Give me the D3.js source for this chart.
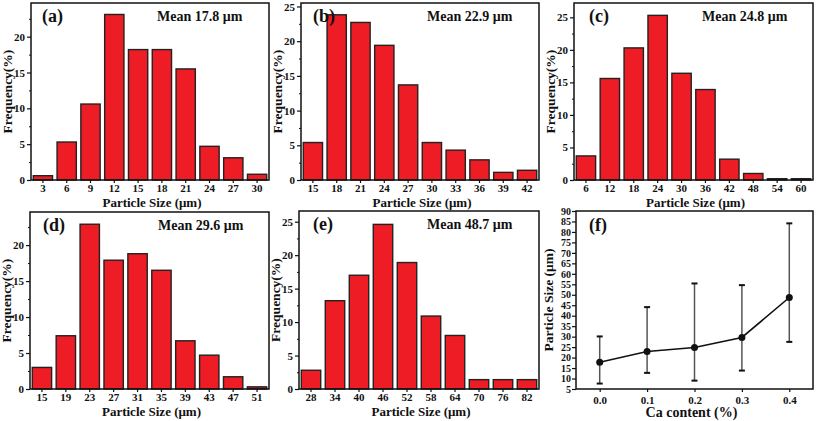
<!DOCTYPE html>
<html><head><meta charset="utf-8">
<script src="https://cdn.jsdelivr.net/npm/d3@7"></script>
<style>
html,body{margin:0;padding:0;background:#fff;}
svg text{font-family:"Liberation Serif","Times New Roman",serif;font-weight:bold;fill:#111;}
</style></head>
<body>
<svg id="chart" width="817" height="421"></svg>
<script>
// ---- data ----
const panelLabels = ["(a)", "(b)", "(c)", "(d)", "(e)", "(f)"];
const meanLabels = ["Mean 17.8 μm", "Mean 22.9 μm", "Mean 24.8 μm", "Mean 29.6 μm", "Mean 48.7 μm"];

const sizesA = ["3","6","9","12","15","18","21","24","27","30"];
const freqA  = [0.6, 5.3, 10.6, 23.1, 18.2, 18.2, 15.5, 4.7, 3.1, 0.8];

const sizesB = ["15","18","21","24","27","30","33","36","39","42"];
const freqB  = [5.4, 23.8, 22.7, 19.4, 13.7, 5.4, 4.3, 2.9, 1.1, 1.4];

const sizesC = ["6","12","18","24","30","36","42","48","54","60"];
const freqC  = [3.7, 15.6, 20.3, 25.3, 16.4, 13.9, 3.2, 1.0, 0.2, 0.2];

const sizesD = ["15","19","23","27","31","35","39","43","47","51"];
const freqD  = [3.0, 7.4, 22.9, 17.9, 18.8, 16.5, 6.7, 4.7, 1.7, 0.3];

const sizesE = ["28","34","40","46","52","58","64","70","76","82"];
const freqE  = [2.8, 13.2, 17.0, 24.6, 18.9, 10.9, 8.0, 1.4, 1.4, 1.4];

const yMaxHist = [24.7, 25.5, 27.2, 24.6, 26.6];
const yTicksHist = [[0,5,10,15,20],[0,5,10,15,20,25],[0,5,10,15,20,25],[0,5,10,15,20],[0,5,10,15,20,25]];

const caContent = [0.0, 0.1, 0.2, 0.3, 0.4];
const meanSize  = [17.8, 22.9, 24.8, 29.6, 48.7];
const sizeLow   = [7.6, 12.7, 9.0, 13.8, 27.5];
const sizeHigh  = [30.1, 44.1, 55.4, 54.6, 84.1];
const fXTicks = [0.0, 0.1, 0.2, 0.3, 0.4];
const fYTicks = [5,10,15,20,25,30,35,40,45,50,55,60,65,70,75,80,85,90];

// ---- layout ----
const svg = d3.select("#chart");
const boxes = [
  {x0:31, x1:269, y0:3, y1:180},
  {x0:301, x1:539, y0:3, y1:180},
  {x0:574, x1:813, y0:3, y1:180},
  {x0:30, x1:269, y0:212, y1:389},
  {x0:299, x1:539, y0:211, y1:389},
  {x0:576, x1:813, y0:211, y1:389}
];
const labelDx = [11, 12, 15, 13, 14, 13];
const meanDx = [126, 126, 128, 128, 128];

const hists = [[sizesA,freqA],[sizesB,freqB],[sizesC,freqC],[sizesD,freqD],[sizesE,freqE]];

function frame(g, b){
  g.append("rect").attr("x", b.x0).attr("y", b.y0)
    .attr("width", b.x1-b.x0).attr("height", b.y1-b.y0)
    .attr("fill","none").attr("stroke","#111").attr("stroke-width",1.5);
}

hists.forEach(([cats, vals], i) => {
  const b = boxes[i];
  const top = i < 3;
  const g = svg.append("g");
  const x = d3.scaleBand().domain(cats).range([b.x0, b.x1]).paddingInner(0.19).paddingOuter(0.095);
  const y = d3.scaleLinear().domain([0, yMaxHist[i]]).range([b.y1, b.y0]);

  g.selectAll("rect.bar").data(vals).enter().append("rect")
    .attr("class","bar")
    .attr("x", (d,j) => x(cats[j]))
    .attr("width", x.bandwidth())
    .attr("y", d => y(d))
    .attr("height", d => y(0) - y(d))
    .attr("fill", "#ee1c24").attr("stroke", "#222").attr("stroke-width", 1.4);

  // y axis (major + minor)
  const minor = d3.range(2.5, yMaxHist[i], 5);
  const ay = g.append("g").attr("transform", `translate(${b.x0},0)`)
    .call(d3.axisLeft(y).tickValues(yTicksHist[i]).tickSize(4).tickPadding(2).tickFormat(d3.format("d")));
  ay.select(".domain").remove();
  ay.selectAll("text").style("font-size","11px");
  ay.selectAll("line").attr("stroke","#111").attr("stroke-width",1.2);
  g.append("g").attr("transform", `translate(${b.x0},0)`)
    .call(d3.axisLeft(y).tickValues(minor).tickSize(2).tickFormat(""))
    .call(s => { s.select(".domain").remove(); s.selectAll("line").attr("stroke","#111"); });

  // x axis
  const ax = g.append("g").attr("transform", `translate(0,${b.y1})`)
    .call(d3.axisBottom(x).tickSize(3).tickPadding(1));
  ax.select(".domain").remove();
  ax.selectAll("text").style("font-size","11px");
  ax.selectAll("line").attr("stroke","#111").attr("stroke-width",1.2);

  frame(g, b);

  // titles
  g.append("text").attr("x", (b.x0+b.x1)/2 + 2).attr("y", top ? 207 : 416)
    .attr("text-anchor","middle").style("font-size","13px").text("Particle Size (μm)");
  g.append("text")
    .attr("transform", `translate(${b.x0-19},${(b.y0+b.y1)/2}) rotate(-90)`)
    .attr("text-anchor","middle").style("font-size","13.5px").text("Frequency(%)");

  g.append("text").attr("x", b.x0 + labelDx[i]).attr("y", b.y0 + 19)
    .style("font-size","18px").text(panelLabels[i]);
  g.append("text").attr("x", b.x0 + meanDx[i]).attr("y", b.y0 + 18)
    .style("font-size","14px").text(meanLabels[i]);
});

// ---- panel (f) ----
{
  const b = boxes[5];
  const g = svg.append("g");
  const x = d3.scaleLinear().domain([-0.05, 0.45]).range([b.x0, b.x1]);
  const y = d3.scaleLinear().domain([5, 90]).range([b.y1, b.y0]);

  const ay = g.append("g").attr("transform", `translate(${b.x0},0)`)
    .call(d3.axisLeft(y).tickValues(fYTicks).tickSize(4).tickPadding(1).tickFormat(d3.format("d")));
  ay.select(".domain").remove();
  ay.selectAll("text").style("font-size","10px");
  ay.selectAll("line").attr("stroke","#111").attr("stroke-width",1.2);

  const ax = g.append("g").attr("transform", `translate(0,${b.y1})`)
    .call(d3.axisBottom(x).tickValues(fXTicks).tickSize(3).tickPadding(4).tickFormat(d3.format(".1f")));
  ax.select(".domain").remove();
  ax.selectAll("text").style("font-size","11px");
  ax.selectAll("line").attr("stroke","#111").attr("stroke-width",1.2);

  // error bars
  const eb = g.selectAll("g.eb").data(caContent).enter().append("g");
  eb.append("line")
    .attr("x1", d => x(d)).attr("x2", d => x(d))
    .attr("y1", (d,j) => y(sizeLow[j])).attr("y2", (d,j) => y(sizeHigh[j]))
    .attr("stroke","#555").attr("stroke-width",1.5);
  eb.append("line")
    .attr("x1", d => x(d)-3).attr("x2", d => x(d)+3)
    .attr("y1", (d,j) => y(sizeLow[j])).attr("y2", (d,j) => y(sizeLow[j]))
    .attr("stroke","#111").attr("stroke-width",2);
  eb.append("line")
    .attr("x1", d => x(d)-3).attr("x2", d => x(d)+3)
    .attr("y1", (d,j) => y(sizeHigh[j])).attr("y2", (d,j) => y(sizeHigh[j]))
    .attr("stroke","#111").attr("stroke-width",2);

  const line = d3.line().x((d,j) => x(caContent[j])).y(d => y(d));
  g.append("path").datum(meanSize).attr("d", line)
    .attr("fill","none").attr("stroke","#111").attr("stroke-width",1.6);
  g.selectAll("circle").data(meanSize).enter().append("circle")
    .attr("cx", (d,j) => x(caContent[j])).attr("cy", d => y(d)).attr("r", 3.5)
    .attr("fill","#111");

  frame(g, b);

  g.append("text").attr("x", (b.x0+b.x1)/2 - 3).attr("y", 417)
    .attr("text-anchor","middle").style("font-size","14px").text("Ca content (%)");
  g.append("text")
    .attr("transform", `translate(${b.x0-23},${(b.y0+b.y1)/2}) rotate(-90)`)
    .attr("text-anchor","middle").style("font-size","13.5px").text("Particle Size (μm)");
  g.append("text").attr("x", b.x0 + labelDx[5]).attr("y", b.y0 + 20)
    .style("font-size","18px").text(panelLabels[5]);
}
</script>
</body></html>
